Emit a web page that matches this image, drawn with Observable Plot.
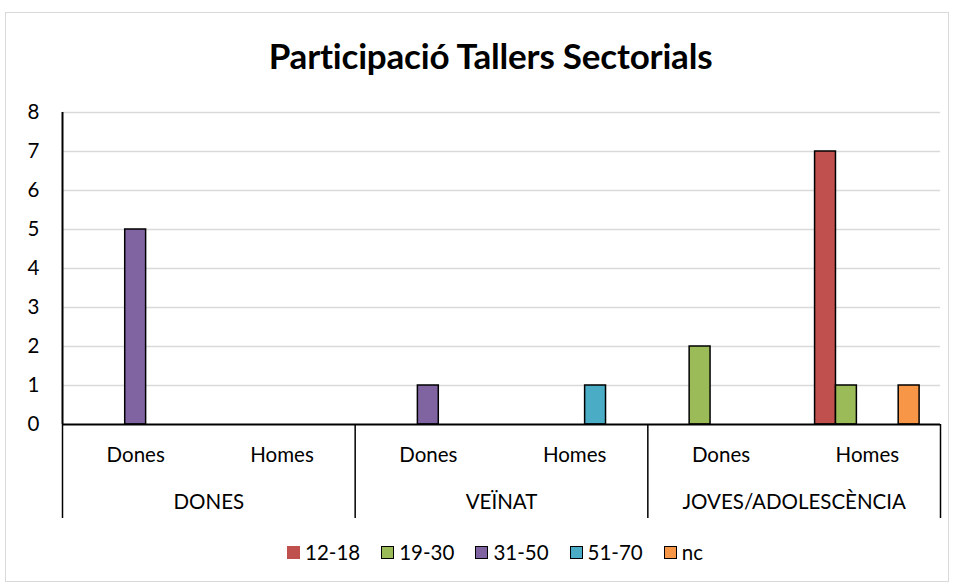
<!DOCTYPE html>
<html>
<head>
<meta charset="utf-8">
<script src="https://cdn.jsdelivr.net/npm/d3@7"></script>
<script src="https://cdn.jsdelivr.net/npm/@observablehq/plot@0.6"></script>
<style>
  html, body { margin: 0; padding: 0; background: #fff; }
  body { width: 954px; height: 585px; position: relative; overflow: hidden; font-family: Lato, "Open Sans", sans-serif; }
  #border { position: absolute; left: 5px; top: 12px; width: 944px; height: 570px; border: 1.5px solid #d9d9d9; box-sizing: border-box; }
  #title { position: absolute; left: 0; top: 35px; width: 954px; text-align: center; font-size: 35px; line-height: 40px; font-weight: bold; color: #000; padding-left: 27px; box-sizing: border-box; letter-spacing: -0.2px; }
  #chart { position: absolute; left: 0; top: 95px; }
  #legend { position: absolute; left: 0; top: 539px; width: 954px; display: flex; justify-content: center; gap: 21px; font-size: 20.5px; line-height: 26px; color: #000; padding-left: 36px; box-sizing: border-box; }
  .item { display: flex; align-items: center; gap: 5px; }
  .sw { width: 13px; height: 13px; box-sizing: border-box; }
</style>
</head>
<body>
<div id="border"></div>
<div id="title">Participació Tallers Sectorials</div>
<div id="chart"></div>
<div id="legend"></div>
<script>
// ---- data ----
const groups = ["DONES", "VEÏNAT", "JOVES/ADOLESCÈNCIA"];
const subs = ["Dones", "Homes"];
const series = ["12-18", "19-30", "31-50", "51-70", "nc"];
const colors = ["#C0504D", "#9BBB59", "#8064A2", "#4BACC6", "#F79646"];
// values per subcategory, order: DONES/Dones, DONES/Homes, VEÏNAT/Dones, VEÏNAT/Homes, JOVES/Dones, JOVES/Homes
const v12_18 = [null, null, null, null, null, 7];
const v19_30 = [null, null, null, null, 2, 1];
const v31_50 = [5, null, 1, null, null, null];
const v51_70 = [null, null, null, 1, null, null];
const vnc    = [null, null, null, null, null, 1];
const yTicks = [0, 1, 2, 3, 4, 5, 6, 7, 8];

// ---- build table ----
const seriesValues = [v12_18, v19_30, v31_50, v51_70, vnc];
const cats = groups.flatMap((g, gi) => subs.map((s, si) => ({group: g, sub: s, k: gi * subs.length + si})));
const slots = series.length + 2; // one empty slot of gap on each side of a cluster
const bars = [];
seriesValues.forEach((vals, s) => {
  vals.forEach((v, k) => {
    if (v != null && v > 0) bars.push({series: series[s], k, s, value: v,
      x1: k + (1 + s) / slots, x2: k + (2 + s) / slots});
  });
});
const groupEdges = d3.range(groups.length + 1).map(g => g * subs.length);
const groupCenters = groups.map((g, gi) => ({group: g, x: gi * subs.length + subs.length / 2}));
const below1 = -0.8, below2 = -2.0, below3 = -2.41;

const font = "Lato, 'Open Sans', sans-serif";
const fs = 20.5;
const plot = Plot.plot({
  width: 954,
  height: 430,
  marginLeft: 62,
  marginRight: 14,
  marginTop: 17,
  marginBottom: 101,
  style: {fontFamily: font, fontSize: fs + "px", color: "#000", background: "transparent", overflow: "visible"},
  x: {type: "linear", domain: [0, cats.length], axis: null},
  y: {domain: [0, 8], axis: null},
  color: {domain: series, range: colors},
  marks: [
    Plot.ruleY(yTicks.filter(d => d > 0), {stroke: "#d9d9d9", strokeWidth: 1.5}),
    Plot.rectY(bars, {x1: "x1", x2: "x2", y: "value", fill: "series", stroke: "#000", strokeWidth: 1.5}),
    Plot.ruleY([0], {stroke: "#000", strokeWidth: 2}),
    Plot.ruleX([0], {y1: 0, y2: 8, stroke: "#000", strokeWidth: 2}),
    Plot.ruleX(groupEdges, {x: d => d, y1: 0, y2: below3, stroke: "#000", strokeWidth: 1.5, clip: false}),
    Plot.text(yTicks, {x: 0, y: d => d, text: d => String(d), textAnchor: "end", dx: -23, fontSize: fs, fill: "#000"}),
    Plot.text(cats, {x: d => d.k + 0.5, y: below1, text: "sub", fontSize: fs, fill: "#000", lineAnchor: "middle"}),
    Plot.text(groupCenters, {x: "x", y: below2, text: "group", fontSize: fs, fill: "#000", lineAnchor: "middle"})
  ]
});
document.getElementById("chart").appendChild(plot);

// ---- legend ----
const legend = document.getElementById("legend");
series.forEach((s, i) => {
  const item = document.createElement("div");
  item.className = "item";
  const sw = document.createElement("div");
  sw.className = "sw";
  sw.style.background = colors[i];
  if (i > 0) sw.style.border = "1.5px solid #000";
  const lab = document.createElement("span");
  lab.textContent = s;
  item.appendChild(sw);
  item.appendChild(lab);
  legend.appendChild(item);
});
</script>
</body>
</html>
